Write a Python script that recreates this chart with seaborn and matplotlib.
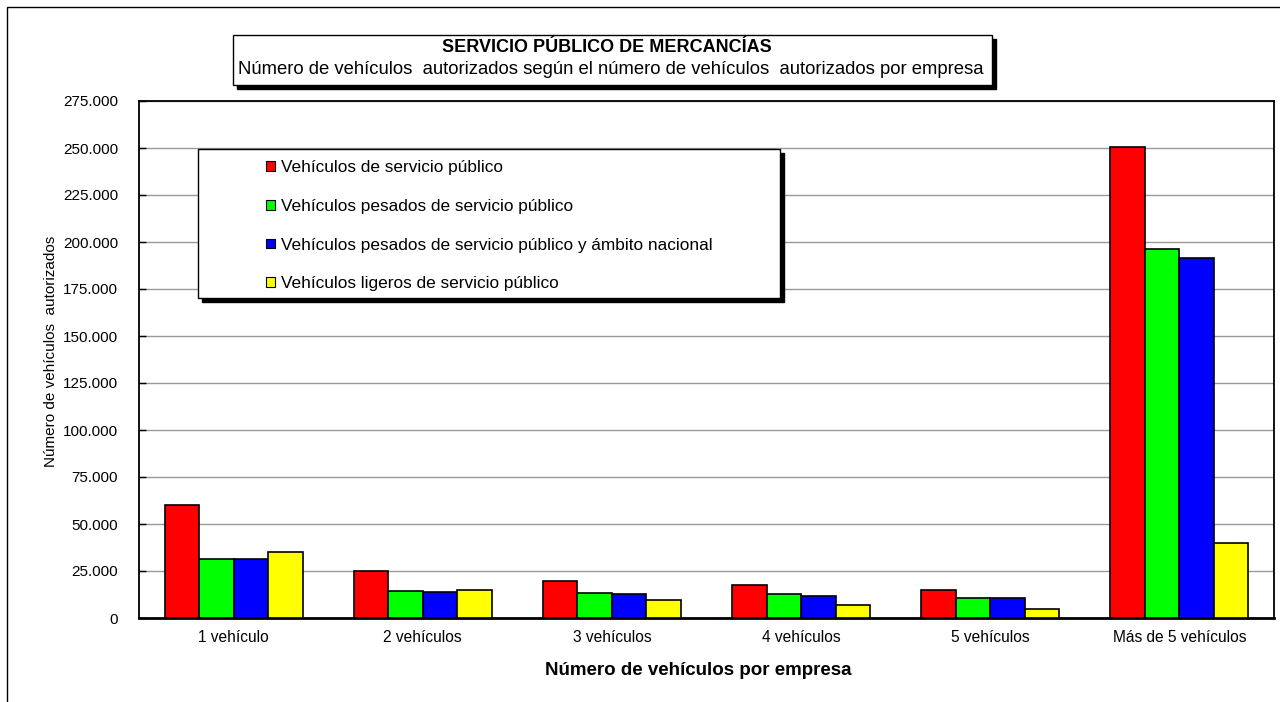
import pandas as pd
import matplotlib
matplotlib.use('Agg')
import matplotlib.pyplot as plt
from matplotlib.patches import Rectangle, Patch
from matplotlib.ticker import FuncFormatter, MultipleLocator
import seaborn as sns

# Data
categories = ['1 vehículo', '2 vehículos', '3 vehículos', '4 vehículos',
              '5 vehículos', 'Más de 5 vehículos']
series_names = ['Vehículos de servicio público',
                'Vehículos pesados de servicio público',
                'Vehículos pesados de servicio público y ámbito nacional',
                'Vehículos ligeros de servicio público']
servicio_publico = [60000, 25200, 19900, 17700, 15100, 250700]
pesados = [31200, 14400, 13200, 12600, 10600, 196300]
pesados_nacional = [31200, 13800, 12600, 11900, 10600, 191300]
ligeros = [35000, 14900, 9400, 6800, 4900, 40000]
colors = ['#FF0000', '#00FF00', '#0000FF', '#FFFF00']

rows = []
for name, vals in zip(series_names, [servicio_publico, pesados, pesados_nacional, ligeros]):
    for cat, v in zip(categories, vals):
        rows.append({'cat': cat, 'serie': name, 'valor': v})
df = pd.DataFrame(rows)

sns.set_theme(style='white')
plt.rcParams['font.family'] = ['Liberation Sans', 'DejaVu Sans']
plt.rcParams['text.color'] = 'black'
plt.rcParams['axes.labelcolor'] = 'black'
plt.rcParams['xtick.color'] = 'black'
plt.rcParams['ytick.color'] = 'black'

W, H = 1280, 702
fig = plt.figure(figsize=(12.8, 7.02), dpi=100)
ax = fig.add_axes([139 / W, 1 - 618 / H, (1274 - 139) / W, (618 - 101) / H])

sns.barplot(data=df, x='cat', y='valor', hue='serie', order=categories,
            hue_order=series_names, palette=colors, edgecolor='black',
            linewidth=1.2, width=0.73, saturation=1, legend=False, ax=ax, zorder=3)

ax.set_xlim(-0.5, 5.5)
ax.set_ylim(0, 275000)
ax.yaxis.set_major_locator(MultipleLocator(25000))
ax.yaxis.set_major_formatter(FuncFormatter(lambda v, p: f'{int(v):,}'.replace(',', '.')))
ax.yaxis.grid(True, color='#999999', linewidth=1, zorder=0)
ax.set_axisbelow(True)
for s in ax.spines.values():
    s.set_color('black')
    s.set_linewidth(1.3)
ax.spines['bottom'].set_linewidth(2)
ax.tick_params(axis='y', direction='in', length=5, width=1, color='black',
               pad=15, labelsize=11, left=True)
ax.tick_params(axis='x', length=0, pad=9, labelsize=11.2)
ax.set_xlabel('Número de vehículos por empresa', fontsize=13.5, fontweight='bold')
ax.xaxis.set_label_coords(698 / W, 1 - 662 / H, transform=fig.transFigure)
ax.set_ylabel('Número de vehículos  autorizados', fontsize=11, labelpad=0)
ax.yaxis.set_label_coords(58 / W, 0.5, transform=fig.transFigure)

# outer chart border (left and top edges visible)
fig.patches.append(Rectangle((7 / W, -0.1), 1.2, 1 - 7 / H + 0.1, transform=fig.transFigure,
                             fill=False, edgecolor='black', linewidth=1))

# title box with shadow
sh = 4
fig.patches.append(Rectangle(((233 + sh) / W, 1 - (85 + sh) / H), (992 - 233) / W, 50 / H,
                             transform=fig.transFigure, facecolor='black', edgecolor='black'))
fig.patches.append(Rectangle((233 / W, 1 - 85 / H), (992 - 233) / W, 50 / H,
                             transform=fig.transFigure, facecolor='white', edgecolor='black',
                             linewidth=1))
fig.text(607 / W, 1 - 47 / H, 'SERVICIO PÚBLICO DE MERCANCÍAS', ha='center', va='center',
         fontsize=13, fontweight='bold')
fig.text(611 / W, 1 - 70 / H,
         'Número de vehículos  autorizados según el número de vehículos  autorizados por empresa',
         ha='center', va='center', fontsize=13.3)

# legend box with shadow
ax.add_patch(Rectangle(((198 + sh) / W, 1 - (298 + sh) / H), (780 - 198) / W, (298 - 149) / H,
                       transform=fig.transFigure, facecolor='black', edgecolor='black',
                       zorder=6, clip_on=False))
ax.add_patch(Rectangle((198 / W, 1 - 298 / H), (780 - 198) / W, (298 - 149) / H,
                       transform=fig.transFigure, facecolor='white', edgecolor='black',
                       linewidth=1, zorder=7, clip_on=False))
handles = [Patch(facecolor=c, edgecolor='black', linewidth=0.8) for c in colors]
leg = ax.legend(handles, series_names, loc='upper left',
                bbox_to_anchor=(266 / W, 1 - 160 / H), bbox_transform=fig.transFigure,
                frameon=False, fontsize=12.4, handlelength=0.5, handleheight=0.5,
                handletextpad=0.35, labelspacing=1.38, borderpad=0, borderaxespad=0)
leg.set_zorder(8)

fig.savefig('out.png', dpi=100)
